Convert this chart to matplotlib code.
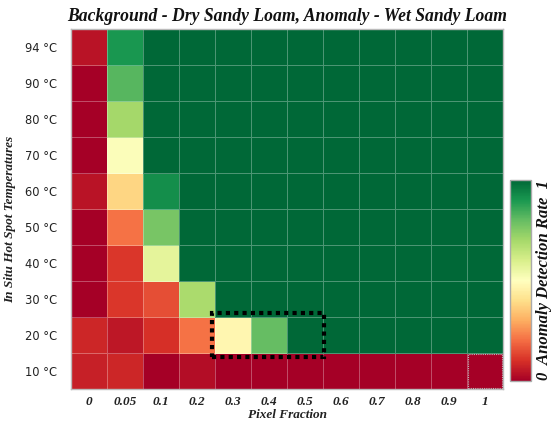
import matplotlib
matplotlib.use("Agg")
import matplotlib.pyplot as plt
import numpy as np
from matplotlib.patches import Rectangle

# Pixel fraction of the anomaly (columns) and in-situ hot spot temperature (rows, bottom to top)
pixel_fractions = ["0", "0.05", "0.1", "0.2", "0.3", "0.4", "0.5", "0.6", "0.7", "0.8", "0.9", "1"]
temperatures = ["10 °C", "20 °C", "30 °C", "40 °C", "50 °C", "60 °C", "70 °C", "80 °C", "90 °C", "94 °C"]

# Anomaly detection rate per temperature row
rate_10 = [0.07, 0.08, 0.00, 0.03, 0.00, 0.00, 0.00, 0.00, 0.00, 0.00, 0.00, 0.00]
rate_20 = [0.08, 0.05, 0.10, 0.21, 0.47, 0.80, 1.00, 1.00, 1.00, 1.00, 1.00, 1.00]
rate_30 = [0.00, 0.11, 0.15, 0.69, 1.00, 1.00, 1.00, 1.00, 1.00, 1.00, 1.00, 1.00]
rate_40 = [0.00, 0.11, 0.57, 1.00, 1.00, 1.00, 1.00, 1.00, 1.00, 1.00, 1.00, 1.00]
rate_50 = [0.00, 0.21, 0.77, 1.00, 1.00, 1.00, 1.00, 1.00, 1.00, 1.00, 1.00, 1.00]
rate_60 = [0.04, 0.38, 0.92, 1.00, 1.00, 1.00, 1.00, 1.00, 1.00, 1.00, 1.00, 1.00]
rate_70 = [0.00, 0.51, 1.00, 1.00, 1.00, 1.00, 1.00, 1.00, 1.00, 1.00, 1.00, 1.00]
rate_80 = [0.00, 0.70, 1.00, 1.00, 1.00, 1.00, 1.00, 1.00, 1.00, 1.00, 1.00, 1.00]
rate_90 = [0.00, 0.82, 1.00, 1.00, 1.00, 1.00, 1.00, 1.00, 1.00, 1.00, 1.00, 1.00]
rate_94 = [0.04, 0.90, 1.00, 1.00, 1.00, 1.00, 1.00, 1.00, 1.00, 1.00, 1.00, 1.00]

rates = np.array([rate_10, rate_20, rate_30, rate_40, rate_50,
                  rate_60, rate_70, rate_80, rate_90, rate_94])

serif = ["Liberation Serif", "DejaVu Serif"]

fig = plt.figure(figsize=(5.51, 4.25), dpi=100)
ax = fig.add_axes([0.1289, 0.0847, 0.784, 0.847])

mesh = ax.pcolormesh(np.arange(len(pixel_fractions) + 1), np.arange(len(temperatures) + 1),
                     rates, cmap="RdYlGn", vmin=0, vmax=1,
                     edgecolors=(1, 1, 1, 0.3), linewidth=0.6)

ax.set_xlim(0, len(pixel_fractions))
ax.set_ylim(0, len(temperatures))
ax.set_xticks(np.arange(len(pixel_fractions)) + 0.5)
ax.set_xticklabels(pixel_fractions, fontfamily=serif, fontweight="bold",
                   fontstyle="italic", fontsize=9.5, color="#222222")
ax.set_yticks(np.arange(len(temperatures)) + 0.5)
ax.set_yticklabels(temperatures, fontfamily="DejaVu Sans", fontsize=8.3, color="#222222")
ax.tick_params(axis="x", length=0, pad=5)
ax.tick_params(axis="y", length=0, pad=10)
for s in ax.spines.values():
    s.set_color("#bbbbbb")
    s.set_linewidth(1.0)

ax.set_title("Background - Dry Sandy Loam, Anomaly - Wet Sandy Loam",
             fontfamily=serif, fontweight="bold", fontstyle="italic",
             fontsize=12.7, color="#111111", pad=6)
ax.set_xlabel("Pixel Fraction", fontfamily=serif, fontweight="bold",
              fontstyle="italic", fontsize=9.5, color="#222222", labelpad=1)
ax.set_ylabel("In Situ Hot Spot Temperatures", fontfamily=serif, fontweight="bold",
              fontstyle="italic", fontsize=9.5, color="#222222", labelpad=6)
ax.yaxis.set_label_coords(-0.128, 0.47)

# Highlighted region of fractions 0.3-0.5 at 20 °C
ax.add_patch(Rectangle((4 - 0.07, 1 - 0.1), 3.1, 1.2, fill=False,
                       edgecolor="black", linewidth=3, linestyle=(0, (1, 1)),
                       clip_on=False, zorder=5))
ax.add_patch(Rectangle((11.03, 0.03), 0.94, 0.94, fill=False,
                       edgecolor="#bbbbbb", linewidth=0.8, linestyle=(0, (1, 1)), zorder=4))

cax = fig.add_axes([0.9256, 0.1035, 0.038, 0.473])
cb = fig.colorbar(mesh, cax=cax)
cb.set_ticks([])
cb.outline.set_edgecolor("#aaaaaa")
cb.outline.set_linewidth(1.0)
fig.text(0.988, 0.34, "0  Anomaly Detection Rate  1", rotation=90,
         ha="center", va="center", fontfamily=serif, fontweight="bold",
         fontstyle="italic", fontsize=12, color="#111111")

fig.savefig("out.png", dpi=100)
